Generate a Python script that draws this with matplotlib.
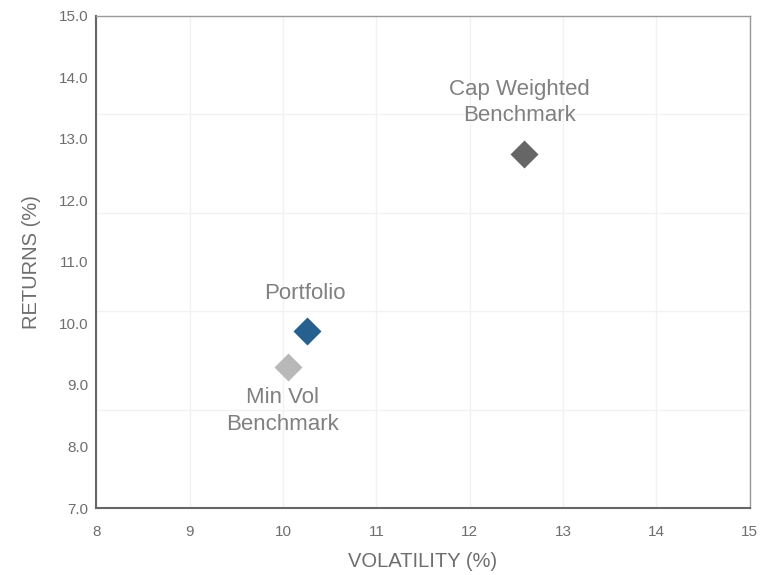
import numpy as np
import matplotlib
matplotlib.use('Agg')
import matplotlib.pyplot as plt

plt.rcParams['font.family'] = ['Liberation Sans', 'DejaVu Sans']

names = ['Cap Weighted\nBenchmark', 'Portfolio', 'Min Vol\nBenchmark']
vol = [12.58, 10.26, 10.05]
ret = [12.75, 9.88, 9.30]
colors = ['#666666', '#25608f', '#b8b8b8']
# text offsets (points) relative to each marker
offsets = [(-3, 37), (-2, 27), (-4, -32)]

xticks = [8, 9, 10, 11, 12, 13, 14, 15]
yticks = [7.0, 8.0, 9.0, 10.0, 11.0, 12.0, 13.0, 14.0, 15.0]

fig = plt.figure(figsize=(7.65, 5.75), dpi=100)
ax = fig.add_axes([0.126, 0.1165, 0.854, 0.856])

for i in range(len(names)):
    ax.plot(vol[i], ret[i], marker='D', ms=14.5, color=colors[i], mec='none', zorder=3)
    ax.annotate(names[i], (vol[i], ret[i]), xytext=offsets[i], textcoords='offset points',
                ha='center', va='center', fontsize=16, color='#808080', linespacing=1.32)

ax.set_xlim(8, 15)
ax.set_ylim(7, 15)
ax.set_xticks(xticks)
ax.set_xticklabels([str(t) for t in xticks])
ax.set_yticks(yticks)
ax.set_yticklabels(['%.1f' % t for t in yticks])
# horizontal gridlines sit on a separate 5-step scale in the original
ax.set_yticks(np.linspace(7, 15, 6), minor=True)
ax.tick_params(which='both', length=0, colors='#6e6e6e', labelsize=11)
ax.tick_params(axis='x', pad=12)
ax.tick_params(axis='y', pad=6)
ax.grid(axis='x', which='major', color='#f2f2f2', lw=1)
ax.grid(axis='y', which='minor', color='#f2f2f2', lw=1)
ax.set_axisbelow(True)

for s in ['left', 'bottom']:
    ax.spines[s].set_color('#666666')
    ax.spines[s].set_linewidth(1.5)
for s in ['top', 'right']:
    ax.spines[s].set_color('#999999')
    ax.spines[s].set_linewidth(1)

ax.set_xlabel('VOLATILITY (%)', fontsize=14.5, color='#6e6e6e', va='center')
ax.set_ylabel('RETURNS (%)', fontsize=14.5, color='#6e6e6e', va='center')
ax.xaxis.set_label_coords(0.5, -0.108)
ax.yaxis.set_label_coords(-0.099, 0.5)

plt.savefig('out.png', dpi=100)
